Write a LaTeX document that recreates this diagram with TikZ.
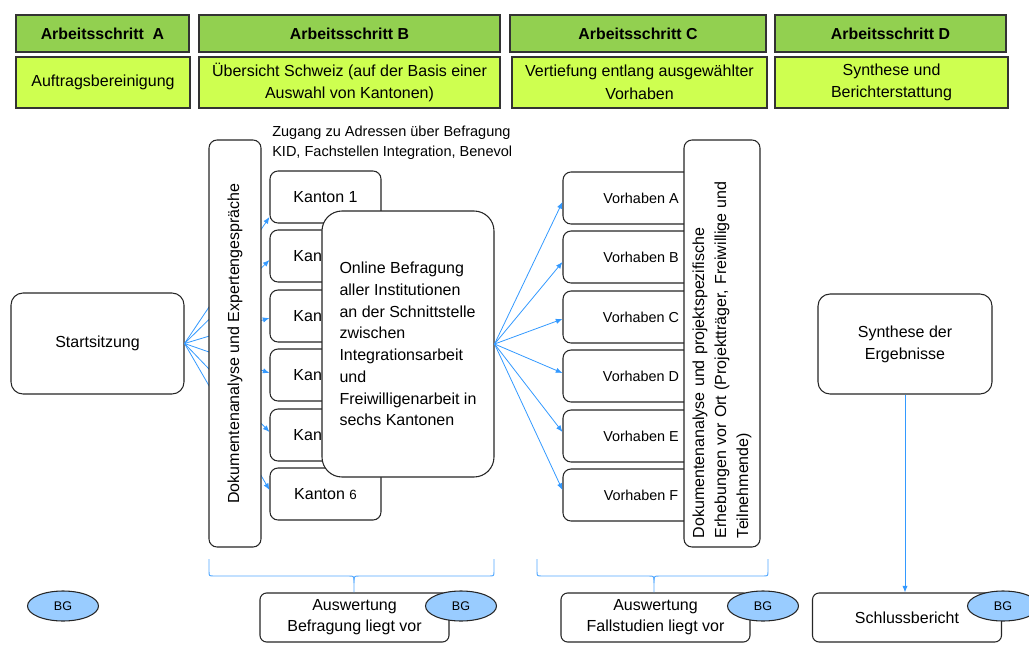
\documentclass[tikz,border=0pt]{standalone}
\usepackage{fontspec}
\setmainfont{Liberation Sans}
\usetikzlibrary{arrows.meta,calc,shapes.geometric}
\definecolor{hdr}{RGB}{146,208,80}
\definecolor{subc}{RGB}{206,255,80}
\definecolor{bgfill}{RGB}{153,204,255}
\definecolor{arrblue}{RGB}{51,153,255}
\begin{document}
\begin{tikzpicture}[x=0.75pt,y=-0.75pt,
  every node/.style={inner sep=0pt},
  hdrbox/.style={draw=black!80, fill=hdr, line width=0.9pt, minimum height=27.75pt, font=\fontsize{11.9}{13}\selectfont\bfseries},
  subbox/.style={draw=black!80, fill=subc, line width=0.9pt, minimum height=38.25pt, align=center, font=\fontsize{12}{17}\selectfont},
  rbox/.style={draw=black!85, fill=white, line width=0.8pt, rounded corners=6pt, align=center, font=\fontsize{12}{16.5}\selectfont},
  kbox/.style={rbox, minimum width=83.25pt, minimum height=39pt},
  vhbox/.style={rbox, minimum width=117pt, minimum height=39pt, font=\fontsize{10.8}{13}\selectfont},
  botbox/.style={rbox, rounded corners=5pt, minimum width=141.75pt, minimum height=36.75pt, font=\fontsize{12}{15.75}\selectfont},
  bgell/.style={ellipse, draw=black!85, fill=bgfill, line width=0.8pt, minimum width=53.25pt, minimum height=22.5pt, font=\fontsize{9.4}{11}\selectfont},
  arr/.style={draw=arrblue, line width=0.6pt, -{Latex[length=5pt,width=4pt]}},
  bracel/.style={draw=arrblue!85, line width=0.7pt}
]
\useasboundingbox (0,0) rectangle (1029,657);

% headers
\node[hdrbox, minimum width=129.75pt] (hA) at (102.5,33.5) {Arbeitsschritt\ \ A};
\node[hdrbox, minimum width=225.75pt] (hB) at (349.5,33.5) {Arbeitsschritt B};
\node[hdrbox, minimum width=192pt] (hC) at (638,33.5) {Arbeitsschritt C};
\node[hdrbox, minimum width=173.25pt] (hD) at (890.5,33.5) {Arbeitsschritt D};
% subtitles
\node[subbox, minimum width=130.5pt] (sA) at (103,82.5) {Auftragsbereinigung};
\node[subbox, minimum width=225.75pt] (sB) at (349.5,82.5) {Übersicht Schweiz (auf der Basis einer\\Auswahl von Kantonen)};
\node[subbox, minimum width=191.25pt] (sC) at (639.5,82.5) {Vertiefung entlang ausgewählter\\Vorhaben};
\node[subbox, minimum width=174.75pt] (sD) at (891.5,82.5) {Synthese und\\Berichterstattung};

% access text
\node[anchor=west, align=left, font=\fontsize{10.9}{15}\selectfont] (zug) at (272,143) {Zugang zu Adressen über Befragung\\KID, Fachstellen Integration, Benevol};

% Kantone
\node[kbox] (k1) at (325.5,197) {Kanton 1};
\node[kbox] (k2) at (325.5,256) {Kanton 2};
\node[kbox] (k3) at (325.5,316) {Kanton 3};
\node[kbox] (k4) at (325.5,375) {Kanton 4};
\node[kbox] (k5) at (325.5,435) {Kanton 5};
\node[kbox] (k6) at (325.5,494) {Kanton {\fontsize{10}{12}\selectfont 6}};

% Vorhaben
\node[vhbox] (va) at (641,198) {Vorhaben A};
\node[vhbox] (vb) at (641,257) {Vorhaben B};
\node[vhbox] (vc) at (641,317) {Vorhaben C};
\node[vhbox] (vd) at (641,376) {Vorhaben D};
\node[vhbox] (ve) at (641,436) {Vorhaben E};
\node[vhbox] (vf) at (641,495) {Vorhaben F};

% Startsitzung
\node[rbox, rounded corners=9pt, minimum width=129.75pt, minimum height=75.75pt] (st) at (97.5,343.5) {Startsitzung};

% fan to Kantone (behind vertical box)
\draw[arr] (st.east) -- ($(k1.west)+(0,20)$);
\draw[arr] (st.east) -- ($(k2.west)+(0,4)$);
\draw[arr] (st.east) -- ($(k3.west)+(0,2)$);
\draw[arr] (st.east) -- ($(k4.west)+(0,-2)$);
\draw[arr] (st.east) -- ($(k5.west)+(0,-3)$);
\draw[arr] (st.east) -- ($(k6.west)+(0,-4)$);

% vertical boxes
\node[rbox, rotate=90, minimum width=305.25pt, minimum height=39pt] (v1) at (235,343.5) {Dokumentenanalyse und Expertengespräche};
\node[rbox, rotate=90, minimum width=305.25pt, minimum height=57pt, text width=291.75pt, align=left, font=\fontsize{12}{16.5}\selectfont] (v2) at (722,343.5) {Dokumentenanalyse und projektspezifische\\Erhebungen vor Ort (Projektträger, Freiwillige und\\Teilnehmende)};

% Online box
\node[rbox, rounded corners=15pt, minimum width=129pt, minimum height=199.5pt, align=left, font=\fontsize{12}{16.3}\selectfont] (on) at (408,344) {Online Befragung\\aller Institutionen\\an der Schnittstelle\\zwischen\\Integrationsarbeit\\und\\Freiwilligenarbeit in\\sechs Kantonen};

% fan to Vorhaben
\draw[arr] (on.east) -- ($(va.west)+(0,4)$);
\draw[arr] (on.east) -- ($(vb.west)+(0,5)$);
\draw[arr] (on.east) -- ($(vc.west)+(0,2)$);
\draw[arr] (on.east) -- ($(vd.west)+(0,-3)$);
\draw[arr] (on.east) -- ($(ve.west)+(0,-4)$);
\draw[arr] (on.east) -- ($(vf.west)+(0,-5)$);

% Synthese
\node[rbox, rounded corners=9pt, minimum width=130.5pt, minimum height=75pt] (syn) at (905,344) {Synthese der\\Ergebnisse};

% bottom boxes
\node[botbox] (b1) at (354.5,617.5) {Auswertung\\Befragung liegt vor};
\node[botbox] (b2) at (655.5,617.5) {Auswertung\\Fallstudien liegt vor};
\node[botbox] (b3) at (907,617.5) {Schlussbericht};

\draw[arr] (syn.south) -- (syn.south |- b3.north);

% braces
\draw[bracel] (209,559) -- (209,571) .. controls (209,576) .. (214,576) -- (349,576) .. controls (354,576) .. (354,583) -- (b1.north -| 354,0);
\draw[bracel] (494,559) -- (494,571) .. controls (494,576) .. (489,576) -- (359,576) .. controls (354,576) .. (354,583);
\draw[bracel] (537,559) -- (537,571) .. controls (537,576) .. (542,576) -- (649,576) .. controls (654,576) .. (654,583) -- (b2.north -| 654,0);
\draw[bracel] (768,559) -- (768,571) .. controls (768,576) .. (763,576) -- (659,576) .. controls (654,576) .. (654,583);

% BG ellipses
\node[bgell] (bg0) at (63,606) {BG};
\node[bgell] (bg1) at (461,606) {BG};
\node[bgell] (bg2) at (763,606) {BG};
\node[bgell] (bg3) at (1003,606) {BG};
\end{tikzpicture}
\end{document}
